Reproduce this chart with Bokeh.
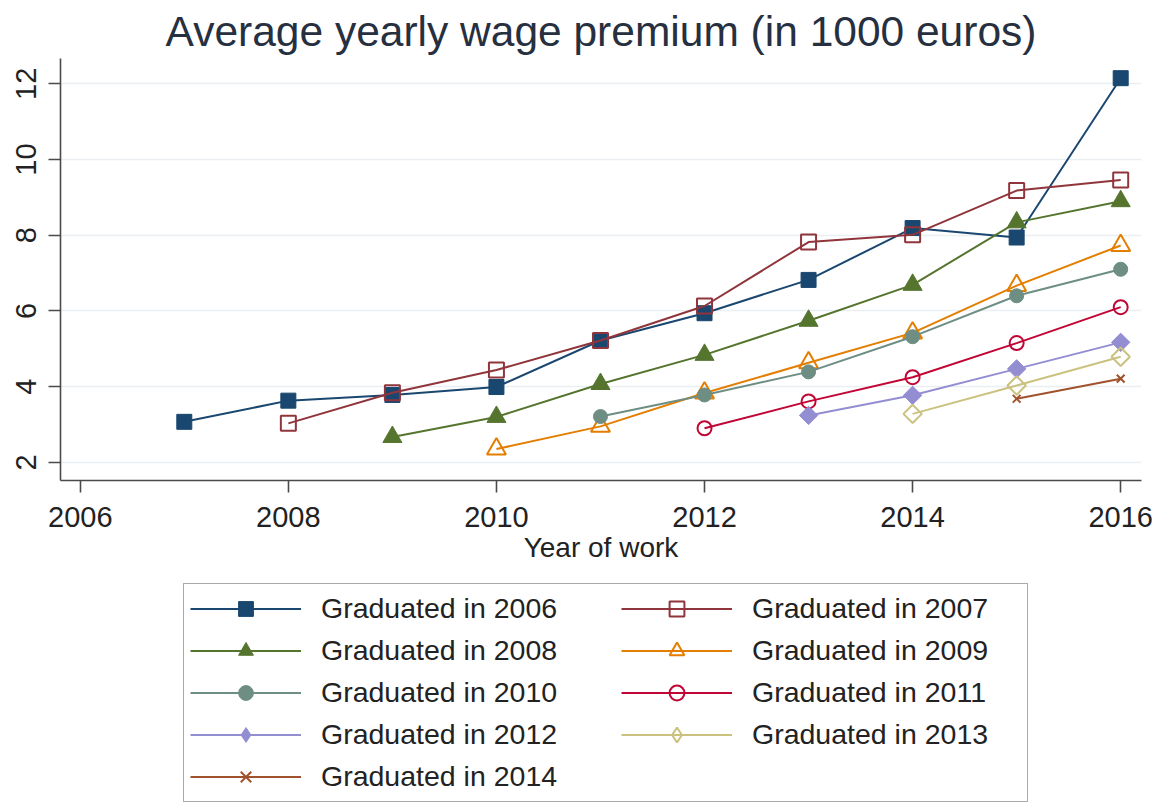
import numpy as np
from bokeh.plotting import figure
from bokeh.models import Range1d, FixedTicker, Legend, LegendItem
from bokeh.layouts import column
from bokeh.embed import file_html
from bokeh.resources import INLINE

# ---- data -------------------------------------------------------------
labels = ["Graduated in 2006", "Graduated in 2007", "Graduated in 2008",
          "Graduated in 2009", "Graduated in 2010", "Graduated in 2011",
          "Graduated in 2012", "Graduated in 2013", "Graduated in 2014"]

years_2006 = [2007, 2008, 2009, 2010, 2011, 2012, 2013, 2014, 2015, 2016]
wage_2006 = [3.07, 3.63, 3.78, 3.99, 5.22, 5.94, 6.82, 8.19, 7.94, 12.15]
years_2007 = [2008, 2009, 2010, 2011, 2012, 2013, 2014, 2015, 2016]
wage_2007 = [3.03, 3.84, 4.44, 5.22, 6.13, 7.82, 8.01, 9.18, 9.46]
years_2008 = [2009, 2010, 2011, 2012, 2013, 2014, 2015, 2016]
wage_2008 = [2.67, 3.20, 4.07, 4.84, 5.74, 6.69, 8.34, 8.90]
years_2009 = [2010, 2011, 2012, 2013, 2014, 2015, 2016]
wage_2009 = [2.35, 2.95, 3.83, 4.63, 5.42, 6.67, 7.73]
years_2010 = [2011, 2012, 2013, 2014, 2015, 2016]
wage_2010 = [3.21, 3.78, 4.39, 5.32, 6.40, 7.10]
years_2011 = [2012, 2013, 2014, 2015, 2016]
wage_2011 = [2.90, 3.61, 4.25, 5.15, 6.10]
years_2012 = [2013, 2014, 2015, 2016]
wage_2012 = [3.24, 3.77, 4.47, 5.17]
years_2013 = [2014, 2015, 2016]
wage_2013 = [3.28, 4.03, 4.79]
years_2014 = [2015, 2016]
wage_2014 = [3.68, 4.21]

x_ticks = [2006, 2008, 2010, 2012, 2014, 2016]
y_ticks = [2, 4, 6, 8, 10, 12]

series_x = [years_2006, years_2007, years_2008, years_2009, years_2010,
            years_2011, years_2012, years_2013, years_2014]
series_y = [wage_2006, wage_2007, wage_2008, wage_2009, wage_2010,
            wage_2011, wage_2012, wage_2013, wage_2014]

# ---- styles -----------------------------------------------------------
colors = ["#1a476f", "#90353b", "#55752f", "#e37e00", "#6e8e84",
          "#c10534", "#938dd2", "#cac27e", "#a0522d"]
markers = ["square", "square", "triangle", "triangle", "circle",
           "circle", "square", "square", "x"]
legend_markers = ["square", "square", "triangle", "triangle", "circle",
                  "circle", "diamond", "diamond", "x"]
filled = [True, False, True, False, True, False, True, False, False]
sizes = [15, 15, 19, 19, 14, 14, 13, 13, 11]
angles = [0, 0, 0, 0, 0, 0, np.pi / 4, np.pi / 4, 0]

FONT = "Liberation Sans"


def add_series(fig, i, marker, size, angle):
    r_line = fig.line(series_x[i], series_y[i], line_color=colors[i], line_width=2)
    if filled[i]:
        r_mark = fig.scatter(series_x[i], series_y[i], marker=marker, size=size,
                             angle=angle, fill_color=colors[i], line_color=colors[i],
                             line_width=1)
    else:
        r_mark = fig.scatter(series_x[i], series_y[i], marker=marker, size=size,
                             angle=angle, fill_color=None, line_color=colors[i],
                             line_width=2)
    return [r_line, r_mark]


# ---- main chart -------------------------------------------------------
p = figure(width=1168, height=580, output_backend="svg", toolbar_location=None,
           x_range=Range1d(2005.81, 2016.2), y_range=Range1d(1.52, 12.67),
           min_border_left=60, min_border_right=27, min_border_top=58,
           min_border_bottom=100)

p.title.text = "Average yearly wage premium (in 1000 euros)"
p.title.text_font = FONT
p.title.text_font_size = "42.5px"
p.title.text_font_style = "normal"
p.title.text_color = "#263040"
p.title.align = "center"
p.title.standoff = 7

p.outline_line_color = None
p.background_fill_color = "white"
p.border_fill_color = "white"

for i in range(len(series_x)):
    add_series(p, i, markers[i], sizes[i], angles[i])

for ax in (p.xaxis[0], p.yaxis[0]):
    ax.axis_line_color = "#4a4a4a"
    ax.axis_line_width = 1.6
    ax.major_tick_line_color = "#4a4a4a"
    ax.major_tick_line_width = 1.6
    ax.major_tick_out = 12
    ax.major_tick_in = 0
    ax.minor_tick_line_color = None
    ax.major_label_text_font = FONT
    ax.major_label_text_font_size = "29px"
    ax.major_label_text_color = "#222222"

p.xaxis.ticker = FixedTicker(ticks=x_ticks)
p.yaxis.ticker = FixedTicker(ticks=y_ticks)
p.xaxis.major_label_standoff = 14
p.yaxis.major_label_standoff = 12
p.yaxis.major_label_orientation = "vertical"
p.xaxis.axis_label = "Year of work"
p.xaxis.axis_label_text_font = FONT
p.xaxis.axis_label_text_font_size = "28px"
p.xaxis.axis_label_text_font_style = "normal"
p.xaxis.axis_label_text_color = "#222222"
p.xaxis.axis_label_standoff = 2

p.xgrid.grid_line_color = None
p.ygrid.ticker = FixedTicker(ticks=y_ticks)
p.ygrid.grid_line_color = "#eceff1"
p.ygrid.grid_line_width = 1.5

# ---- legend panel -----------------------------------------------------
lg = figure(width=1168, height=225, output_backend="svg", toolbar_location=None,
            x_range=Range1d(0, 1), y_range=Range1d(0, 1),
            x_axis_location=None, y_axis_location=None,
            min_border_left=0, min_border_right=0, min_border_top=0,
            min_border_bottom=0)
lg.outline_line_color = None
lg.grid.grid_line_color = None
lg.background_fill_color = "white"
lg.border_fill_color = "white"

legend_items = []
for i in range(len(series_x)):
    rs = add_series(lg, i, legend_markers[i], sizes[i], 0)
    legend_items.append(LegendItem(label=labels[i], renderers=rs))

common = dict(glyph_width=111, glyph_height=37, label_height=37,
              label_standoff=20, spacing=5, padding=6, margin=0,
              label_text_font=FONT, label_text_font_size="28.5px",
              label_text_color="#222222")

leg_a = Legend(items=legend_items[0::2], location=(123, 3), label_width=700,
               border_line_color="#555555", border_line_width=1.6,
               background_fill_color="white", background_fill_alpha=1, **common)
leg_b = Legend(items=legend_items[1::2], location=(561, 52),
               label_width=250, border_line_color=None,
               background_fill_alpha=0, **common)
lg.add_layout(leg_a, "center")
lg.add_layout(leg_b, "center")

layout = column(p, lg, spacing=0)

open("out.html", "w").write(file_html(layout, INLINE))
